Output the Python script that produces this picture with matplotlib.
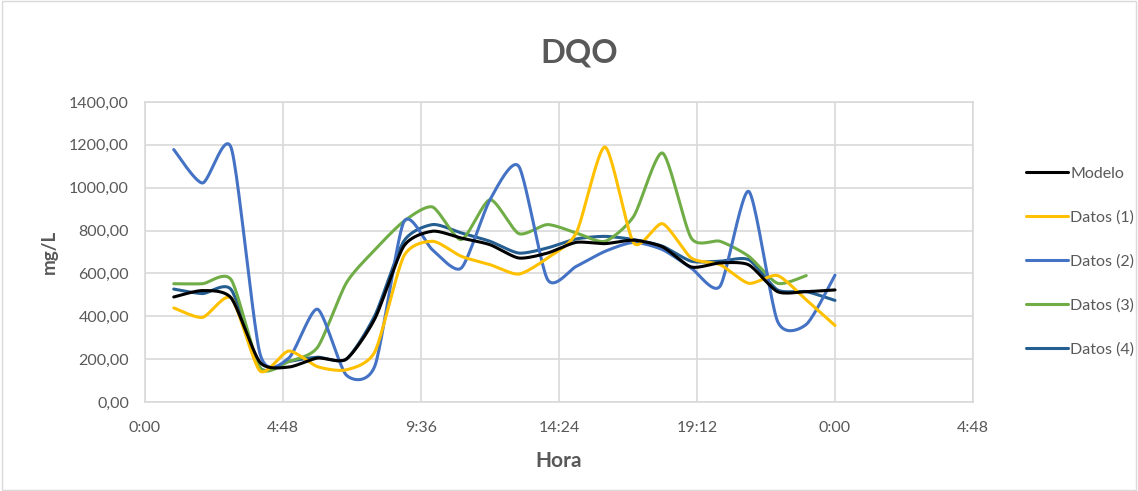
import numpy as np
import matplotlib
matplotlib.use("Agg")
import matplotlib.pyplot as plt

hours = list(range(1, 25))
modelo = [490, 520, 485, 185, 163, 205, 200, 390, 727, 797, 765, 734, 672, 695,
          745, 739, 755, 724, 630, 649, 640, 515, 515, 523]
datos1 = [439, 395, 485, 145, 238, 165, 150, 236, 680, 750, 680, 641, 597, 672,
          789, 1190, 742, 832, 672, 641, 554, 590, 477, 357]
datos2 = [1178, 1022, 1185, 225, 205, 433, 126, 170, 840, 710, 625, 944, 1100, 572,
          633, 703, 745, 711, 625, 540, 983, 377, 362, 592]
datos3 = [552, 552, 570, 160, 189, 255, 555, 711, 843, 910, 758, 944, 786, 828,
          789, 750, 867, 1162, 765, 750, 680, 554, 590]
datos4 = [527, 506, 524, 160, 189, 209, 200, 405, 750, 828, 789, 750, 695, 719,
          761, 773, 758, 727, 657, 657, 664, 523, 515, 474]

series = [("Modelo", modelo, "#000000"),
          ("Datos (1)", datos1, "#FFC000"),
          ("Datos (2)", datos2, "#4472C4"),
          ("Datos (3)", datos3, "#70AD47"),
          ("Datos (4)", datos4, "#255E91")]

x_ticks = [0, 4.8, 9.6, 14.4, 19.2, 24.0, 28.8]
x_ticklabels = ["0:00", "4:48", "9:36", "14:24", "19:12", "0:00", "4:48"]
y_ticks = [0, 200, 400, 600, 800, 1000, 1200, 1400]


def smooth(x, y, n=24, s=0.35):
    """Cardinal-spline rendering like a spreadsheet smoothed line."""
    x = np.asarray(x, float)
    y = np.asarray(y, float)
    px = np.concatenate([[x[0]], x, [x[-1]]])
    py = np.concatenate([[y[0]], y, [y[-1]]])
    t = np.linspace(0, 1, n, endpoint=False)
    h00 = 2 * t**3 - 3 * t**2 + 1
    h10 = t**3 - 2 * t**2 + t
    h01 = -2 * t**3 + 3 * t**2
    h11 = t**3 - t**2
    xs, ys = [], []
    for i in range(1, len(px) - 2):
        for arr, out in ((px, xs), (py, ys)):
            p0, p1, p2, p3 = arr[i - 1], arr[i], arr[i + 1], arr[i + 2]
            m1 = s * (p2 - p0)
            m2 = s * (p3 - p1)
            out.append(h00 * p1 + h10 * m1 + h01 * p2 + h11 * m2)
    xs.append([x[-1]])
    ys.append([y[-1]])
    return np.concatenate(xs), np.concatenate(ys)


plt.rcParams['font.family'] = ['Lato', 'DejaVu Sans']
fig = plt.figure(figsize=(11.38, 4.91), dpi=100)
ax = fig.add_axes([145 / 1138, 1 - 402 / 491, (973 - 145) / 1138, 300 / 491])

order = [4, 3, 2, 1, 0]
handles = {}
for idx in order:
    name, vals, col = series[idx]
    xh = hours[:len(vals)]
    sx, sy = smooth(xh, vals)
    ln, = ax.plot(sx, sy, color=col, lw=2.2, label=name, solid_capstyle='round',
                  zorder=3 + (5 - idx) * 0.1)
    handles[idx] = ln

ax.set_xlim(0, 28.8)
ax.set_ylim(0, 1400)
ax.set_xticks(x_ticks)
ax.set_xticklabels(x_ticklabels)
ax.set_yticks(y_ticks)
ax.set_yticklabels([f"{v:.2f}".replace(".", ",") for v in y_ticks])
ax.grid(True, color="#D9D9D9", lw=1.2)
ax.set_axisbelow(True)
for s in ax.spines.values():
    s.set_color("#D9D9D9")
    s.set_linewidth(1.2)
ax.tick_params(length=0, labelsize=11.5, colors="#595959")
ax.tick_params(axis='y', pad=11.5)
ax.tick_params(axis='x', pad=14)

ax.set_xlabel("Hora", fontsize=15, fontweight='bold', color="#595959", labelpad=11)
ax.set_ylabel("mg/L", fontsize=13.5, fontweight='bold', color="#595959", labelpad=8)
fig.text(579 / 1138, 1 - 53 / 491, "DQO", ha='center', va='center', fontsize=23.5,
         fontweight='bold', color="#595959")

leg = fig.legend([handles[i] for i in range(5)], [s[0] for s in series],
                 loc='upper left', bbox_to_anchor=(1020 / 1138, 1 - 160 / 491),
                 frameon=False, fontsize=11.5, labelspacing=1.86, handlelength=2.6,
                 handletextpad=0.15, borderaxespad=0)
for t in leg.get_texts():
    t.set_color("#595959")

border = plt.Rectangle((0.002, 0.003), 0.996, 0.994, transform=fig.transFigure,
                       fill=False, edgecolor="#D9D9D9", lw=1)
fig.patches.append(border)

fig.savefig("out.png", dpi=100)
